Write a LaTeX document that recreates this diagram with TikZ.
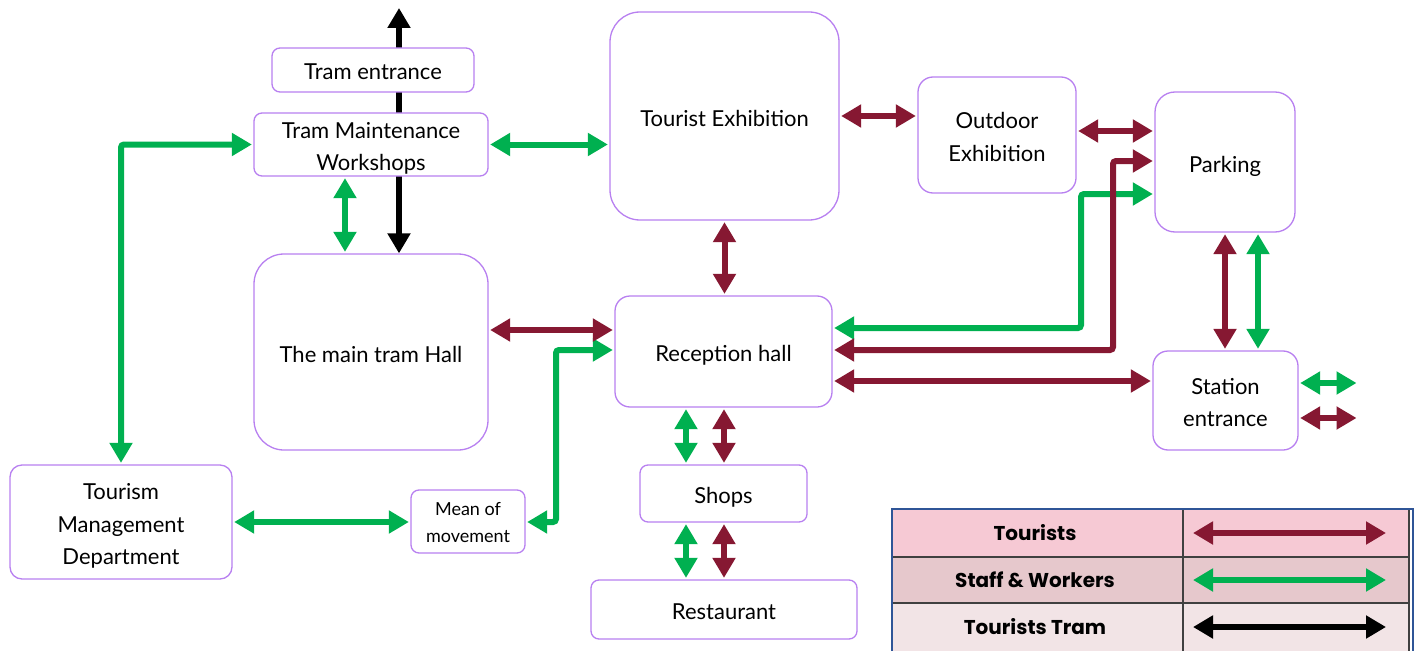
\documentclass[tikz,border=0pt]{standalone}
\usepackage{fontspec}
\setmainfont{Lato}
\newfontfamily\legfont{Poppins}
\usetikzlibrary{arrows.meta,backgrounds}
\definecolor{boxc}{RGB}{184,128,240}
\definecolor{tourc}{RGB}{134,24,50}
\definecolor{staffc}{RGB}{0,176,80}
\definecolor{legA}{RGB}{246,201,212}
\definecolor{legB}{RGB}{230,200,204}
\definecolor{legC}{RGB}{242,228,230}
\definecolor{frame}{RGB}{47,85,151}
\tikzset{
  box/.style={draw=boxc, line width=1.3pt, fill=white, align=center, inner sep=0pt,
    font=\fontsize{22}{32.5}\selectfont, text depth=0pt, text height=20pt},
  two/.style={text height=52.5pt},
  three/.style={text height=85pt},
  arr/.style={line width=6pt, rounded corners=3pt,
    {Triangle[length=20pt,width=22pt]}-{Triangle[length=20pt,width=22pt]}},
  tour/.style={arr, draw=tourc, shorten <=1.5pt, shorten >=1.5pt},
  staff/.style={arr, draw=staffc, shorten <=1.5pt, shorten >=1.5pt},
  tram/.style={arr, draw=black},
  legtxt/.style={font=\legfont\fontsize{20}{22}\selectfont\bfseries},
}
\begin{document}
\begin{tikzpicture}[x=1pt,y=-1pt]
\useasboundingbox (0,0) rectangle (1420,650);
% boxes
\node[box, rounded corners=8pt, minimum width=202pt, minimum height=44pt] (te) at (373,70) {Tram entrance};
\node[box, two, rounded corners=8pt, minimum width=234pt, minimum height=63pt] (ws) at (371,144.5) {Tram Maintenance\\Workshops};
\node[box, rounded corners=30pt, minimum width=229pt, minimum height=208pt] (tex) at (724.5,116) {Tourist Exhibition};
\node[box, two, rounded corners=15pt, minimum width=158pt, minimum height=116pt] (oe) at (997,135) {Outdoor\\Exhibition};
\node[box, rounded corners=20pt, minimum width=140pt, minimum height=140pt] (pk) at (1225,162) {Parking};
\node[box, rounded corners=30pt, minimum width=234pt, minimum height=196pt] (mh) at (371,352) {The main tram Hall};
\node[box, rounded corners=15pt, minimum width=217pt, minimum height=111pt] (rh) at (723.5,351.5) {Reception hall};
\node[box, two, rounded corners=15pt, minimum width=145pt, minimum height=99pt] (se) at (1225.5,400.5) {Station\\entrance};
\node[box, rounded corners=8pt, minimum width=167pt, minimum height=57pt] (sh) at (723.5,493.5) {Shops};
\node[box, rounded corners=8pt, minimum width=266pt, minimum height=59pt] (rs) at (724,609.5) {Restaurant};
\node[box, rounded corners=8pt, minimum width=114pt, minimum height=63pt, font=\fontsize{18}{27}\selectfont, text height=42pt] (mm) at (468,521.5) {Mean of\\movement};
\node[box, three, rounded corners=12pt, minimum width=222pt, minimum height=114pt] (tm) at (121,522) {Tourism\\Management\\Department};
% free ends
\coordinate (ttop) at (399,8);
\coordinate (sg) at (1358,383);
\coordinate (st) at (1358,418);
% tram arrow behind boxes
\begin{scope}[on background layer]
\draw[tram] (ttop) -- (mh.north -| ttop);
\end{scope}
% staff arrows
\draw[staff] (ws.east) -- (tex.west |- ws.east);
\draw[staff] (ws.south -| 345,0) -- (mh.north -| 345,0);
\draw[staff] (tm.north) |- (ws.west);
\draw[staff] (tm.east |- 0,522) -- (mm.west |- 0,522);
\draw[staff] (mm.east |- 0,522) -- (556,522) -- (556,350) -- (rh.west |- 0,350);
\draw[staff] (rh.east |- 0,328) -- (1081,328) -- (1081,194) -- (pk.west |- 0,194);
\draw[staff] (pk.south -| 1258,0) -- (se.north -| 1258,0);
\draw[staff] (se.east |- sg) -- (sg);
\draw[staff] (rh.south -| 686,0) -- (sh.north -| 686,0);
\draw[staff] (sh.south -| 686,0) -- (rs.north -| 686,0);
% tourist arrows
\draw[tour] (mh.east |- 0,330) -- (rh.west |- 0,330);
\draw[tour] (tex.south) -- (rh.north -| tex.south);
\draw[tour] (tex.east |- 0,116) -- (oe.west |- 0,116);
\draw[tour] (oe.east |- 0,131) -- (pk.west |- 0,131);
\draw[tour] (rh.east |- 0,350) -- (1113,350) -- (1113,161) -- (pk.west |- 0,161);
\draw[tour] (rh.east |- 0,381) -- (se.west |- 0,381);
\draw[tour] (pk.south -| 1225,0) -- (se.north -| 1225,0);
\draw[tour] (se.east |- st) -- (st);
\draw[tour] (rh.south -| 724,0) -- (sh.north -| 724,0);
\draw[tour] (sh.south -| 724,0) -- (rs.north -| 724,0);
% legend
\fill[legA] (892,509) rectangle (1410,557);
\fill[legB] (892,557) rectangle (1410,603);
\fill[legC] (892,603) rectangle (1410,652);
\draw[line width=1.3pt, black!75] (892,557) -- (1410,557) (892,603) -- (1410,603)
  (1183,509) -- (1183,652) (1409,509) -- (1409,652);
\draw[frame, line width=2pt] (891.5,652) -- (891.5,508.5) -- (1413,508.5) -- (1413,652);
\node[legtxt] (l1) at (1035,533) {Tourists};
\node[legtxt] (l2) at (1035,580) {Staff \& Workers};
\node[legtxt] (l3) at (1035,627) {Tourists Tram};
\coordinate (a1l) at (1193,533); \coordinate (a1r) at (1386,533);
\coordinate (a2l) at (1193,580); \coordinate (a2r) at (1386,580);
\coordinate (a3l) at (1193,627); \coordinate (a3r) at (1386,627);
\draw[tour, shorten <=0pt, shorten >=0pt] (a1l) -- (a1r);
\draw[staff, shorten <=0pt, shorten >=0pt] (a2l) -- (a2r);
\draw[tram] (a3l) -- (a3r);
\end{tikzpicture}
\end{document}
